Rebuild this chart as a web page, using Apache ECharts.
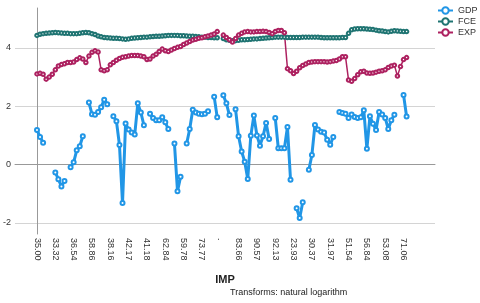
<!DOCTYPE html>
<html><head><meta charset="utf-8">
<script src="https://cdn.jsdelivr.net/npm/echarts@6/dist/echarts.min.js"></script>
<style>html,body{margin:0;padding:0;background:#fff}#c{width:480px;height:303px}</style>
</head><body><div id="c"></div>
<script>
// IMP tick labels (every 6th category is labelled)
const tickLabels = ['35.00','33.32','36.54','58.86','38.16','42.17','41.18','62.84','59.78','73.77','.','83.66','90.57','92.13','23.93','30.37','31.97','51.54','56.84','53.08','71.06'];
const labelStep = 6;
const yTicks = [-2, 0, 2, 4];

const gdp = [
1.19,0.95,0.75,null,null,null,-0.27,-0.5,-0.75,-0.56,
null,-0.09,0.08,0.49,0.63,0.97,null,2.13,1.73,1.71,
1.8,1.97,2.22,2.07,null,1.66,1.49,0.67,-1.32,1.41,
1.2,1.1,1.03,2.1,1.79,1.35,null,1.74,1.6,1.52,
1.52,1.62,1.45,1.22,null,0.72,-0.91,-0.42,null,0.72,
1.22,1.88,1.79,1.74,1.73,1.74,1.83,null,2.33,1.62,
null,2.38,2.1,1.7,null,1.9,0.97,0.45,0.1,-0.49,
0.99,1.68,1.0,0.65,0.97,1.43,0.88,null,1.6,0.56,
0.56,0.56,1.29,-0.52,null,-1.5,-1.83,-1.29,null,-0.18,
0.33,1.36,1.2,1.13,1.1,0.85,0.68,0.95,null,1.8,
1.77,1.74,1.6,1.72,1.63,1.6,1.62,1.86,0.54,1.66,
1.4,1.19,1.8,1.72,1.6,1.22,1.52,1.71,null,null,
2.39,1.65];

const fce = [
4.43,4.47,4.49,4.50,4.51,4.52,4.53,4.52,4.51,4.50,
4.50,4.49,4.49,4.49,4.50,4.52,4.53,4.52,4.49,4.46,
4.41,4.38,4.36,4.35,4.34,4.33,4.33,4.32,4.31,4.30,
4.31,4.33,4.34,4.35,4.36,4.37,4.37,4.38,4.39,4.40,
4.40,4.41,4.42,4.43,4.43,4.43,4.43,4.42,4.42,4.41,
4.40,4.40,4.39,4.38,4.37,4.37,4.36,4.36,4.35,4.35,
null,4.32,4.28,4.26,4.25,4.25,4.26,4.28,4.28,4.29,
4.30,4.31,4.31,4.32,4.33,4.34,4.35,4.36,4.37,4.37,
4.37,4.37,4.36,4.36,4.36,4.36,4.36,4.37,4.37,4.37,
4.37,4.37,4.37,4.36,4.35,4.35,4.35,4.35,4.35,4.35,
4.36,4.36,4.50,4.62,4.65,4.66,4.66,4.66,4.65,4.64,
4.63,4.61,4.59,4.58,4.56,4.55,4.57,4.59,4.58,4.57,
4.56,4.56];

const exp = [
3.11,3.13,3.10,2.93,3.00,3.10,3.25,3.38,3.43,3.46,
3.50,3.50,3.52,3.60,3.66,3.62,3.50,3.72,3.85,3.90,
3.86,3.25,3.22,3.25,3.42,3.50,3.58,3.64,3.68,3.70,
3.72,3.74,3.74,3.74,3.72,3.70,3.60,3.62,3.72,3.78,
3.88,3.96,3.90,3.88,3.93,3.98,4.02,4.05,4.12,4.17,
4.22,4.27,4.30,4.33,4.35,4.38,4.41,4.44,4.48,4.56,
null,4.44,4.36,4.28,4.20,4.32,4.44,4.50,4.55,4.56,
4.55,4.55,4.56,4.56,4.57,4.56,4.53,4.49,4.56,4.60,
4.60,4.52,3.29,3.22,3.12,3.20,3.32,3.40,3.45,3.50,
3.52,3.53,3.53,3.53,3.53,3.52,3.53,3.55,3.57,3.62,
3.70,3.70,2.90,2.86,2.95,3.08,3.18,3.20,3.14,3.13,
3.14,3.17,3.20,3.22,3.25,3.33,3.38,3.41,3.04,3.36,
3.60,3.67];

const colors = {GDP:'#2196e6', FCE:'#1f7472', EXP:'#ad2160'};
const tickPos = tickLabels.map((_, k) => k * labelStep);
const toPairs = arr => arr.map((v, i) => [i, v]);

const chart = echarts.init(document.getElementById('c'), null, {renderer:'canvas'});
const mkSeries = (name, data, lw, ss, bw) => ({
  name, type:'line', data: toPairs(data), connectNulls:false,
  symbol:'emptyCircle', symbolSize:ss, showSymbol:true, showAllSymbol:true,
  lineStyle:{color:colors[name], width:lw},
  itemStyle:{color:colors[name], borderWidth:bw},
  emphasis:{disabled:true}, animation:false
});
chart.setOption({
  animation:false,
  color:[colors.GDP, colors.FCE, colors.EXP],
  grid:{left:13, right:45, top:8, bottom:69, containLabel:false},
  legend:{
    orient:'vertical', left:437, top:6, padding:0, itemGap:2, itemWidth:15, itemHeight:8,
    textStyle:{fontSize:9, color:'#333', fontFamily:'Liberation Sans, Arial, sans-serif'},
    data:['GDP','FCE','EXP']
  },
  xAxis:{
    type:'value', min:-7.2, max:130.3,
    name:'IMP', nameLocation:'middle', nameGap:40,
    nameTextStyle:{fontSize:11, fontWeight:'bold', color:'#222', fontFamily:'Liberation Sans, Arial, sans-serif'},
    axisLine:{show:true, lineStyle:{color:'#999', width:1}},
    axisTick:{show:false, customValues:tickPos},
    splitLine:{show:false},
    axisLabel:{
      customValues:tickPos, rotate:-90, margin:4, fontSize:9, color:'#333',
      fontFamily:'Liberation Sans, Arial, sans-serif',
      formatter: v => { const k = Math.round(v / labelStep); return tickLabels[k] !== undefined ? tickLabels[k] : ''; }
    }
  },
  yAxis:{
    type:'value', min:-2.38, max:5.37,
    axisLine:{show:true, lineStyle:{color:'#999', width:1}},
    axisTick:{show:false, customValues:yTicks},
    splitLine:{show:true, lineStyle:{color:'#d4d4d4', width:1}},
    axisLabel:{customValues:yTicks, margin:4, fontSize:9, color:'#333', fontFamily:'Liberation Sans, Arial, sans-serif'}
  },
  graphic:[{
    type:'text', left:230, top:288,
    style:{text:'Transforms: natural logarithm', fontSize:9, fill:'#222', fontFamily:'Liberation Sans, Arial, sans-serif'}
  }],
  series:[
    mkSeries('GDP', gdp, 3, 4, 1),
    mkSeries('FCE', fce, 1.5, 3.5, 0.8),
    mkSeries('EXP', exp, 1.5, 3.5, 0.8)
  ]
});
</script>
</body></html>
